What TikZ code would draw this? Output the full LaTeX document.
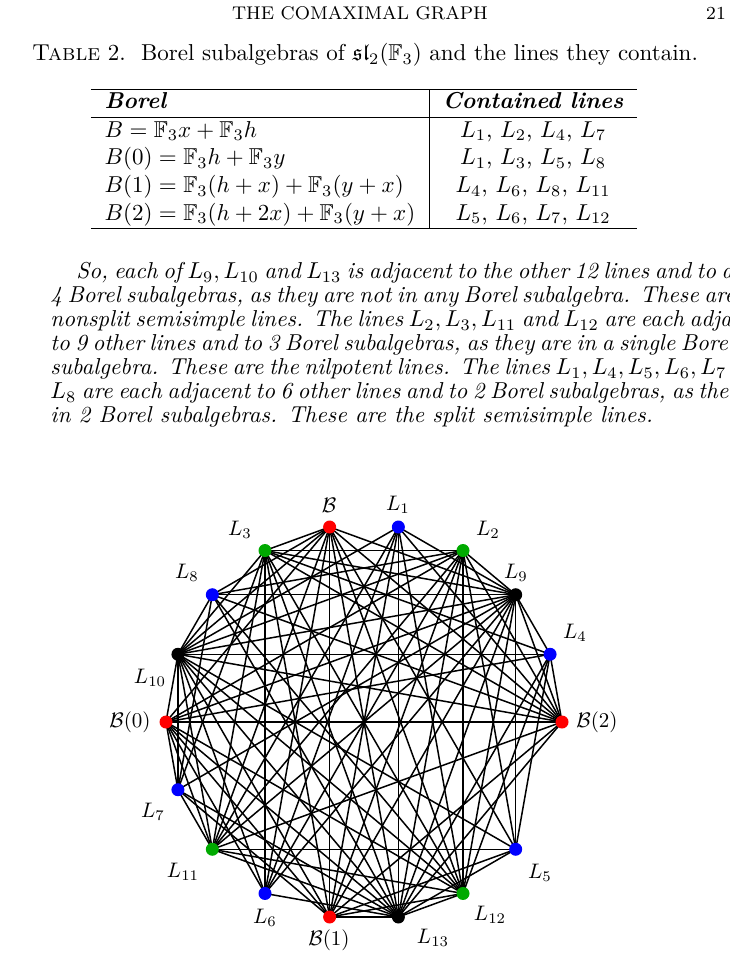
\documentclass[tikz,border=0pt]{standalone}
\usepackage{amssymb}
\definecolor{vgreen}{RGB}{0,170,0}
\begin{document}
\begin{tikzpicture}[x=1pt,y=-1pt,
  dot/.style={circle,fill=#1,inner sep=0pt,minimum size=13pt},
  edge/.style={line width=1.5pt},
  big/.style={scale=2.3,transform shape},
  lab/.style={scale=2.1,transform shape},
  txt/.style={anchor=west,inner sep=0pt,scale=2.3,transform shape,font=\itshape}]
\useasboundingbox (0,0) rectangle (730,968);
\node[big,font=\footnotesize] (hd) at (360,13) {THE COMAXIMAL GRAPH};
\node[big,font=\footnotesize] (pg) at (716,13) {21};
\node[big] (cap) at (365,55) {\textsc{Table} 2.\ \ Borel subalgebras of $\mathfrak{sl}_2(\mathbb{F}_3)$ and the lines they contain.};
\node[big,inner sep=0pt] (tab) at (364,159) {\begin{tabular}{l|c}
\hline
\textbf{\textit{Borel}} & \textbf{\textit{Contained lines}}\\
\hline
$B=\mathbb{F}_3x+\mathbb{F}_3h$ & $L_1$, $L_2$, $L_4$, $L_7$\\
$B(0)=\mathbb{F}_3h+\mathbb{F}_3y$ & $L_1$, $L_3$, $L_5$, $L_8$\\
$B(1)=\mathbb{F}_3(h+x)+\mathbb{F}_3(y+x)$ & $L_4$, $L_6$, $L_8$, $L_{11}$\\
$B(2)=\mathbb{F}_3(h+2x)+\mathbb{F}_3(y+x)$ & $L_5$, $L_6$, $L_7$, $L_{12}$\\
\hline
\end{tabular}};
\node[txt] (p1) at (76,273) {\makebox[283.5pt][s]{So, each of $L_9, L_{10}$ and $L_{13}$ is adjacent to the other 12 lines and to all}};
\node[txt] (p2) at (50,297) {\makebox[294.8pt][s]{4 Borel subalgebras, as they are not in any Borel subalgebra. These are the}};
\node[txt] (p3) at (50,321) {\makebox[294.8pt][s]{nonsplit semisimple lines. The lines $L_2, L_3, L_{11}$ and $L_{12}$ are each adjacent}};
\node[txt] (p4) at (50,345) {\makebox[294.8pt][s]{to 9 other lines and to 3 Borel subalgebras, as they are in a single Borel}};
\node[txt] (p5) at (50,369) {\makebox[294.8pt][s]{subalgebra. These are the nilpotent lines. The lines $L_1, L_4, L_5, L_6, L_7$ and}};
\node[txt] (p6) at (50,393) {\makebox[294.8pt][s]{$L_8$ are each adjacent to 6 other lines and to 2 Borel subalgebras, as they are}};
\node[txt] (p7) at (50,417) {in 2 Borel subalgebras. These are the split semisimple lines.};
% vertices
\foreach \n/\a/\c in {B/100/red,L1/80/blue,L2/60/vgreen,L9/40/black,L4/20/blue,B2/0/red,
  L5/-40/blue,L12/-60/vgreen,L13/-80/black,B1/-100/red,L6/-120/blue,L11/-140/vgreen,
  L7/-160/blue,B0/180/red,L10/160/black,L8/140/blue,L3/120/vgreen}
  \coordinate (\n) at ({364+198*cos(\a)},{722-198*sin(\a)});
\foreach \i/\j in {1/6,1/9,1/10,1/11,1/12,1/13,
 2/3,2/5,2/6,2/8,2/9,2/10,2/11,2/12,2/13,
 3/4,3/6,3/7,3/9,3/10,3/11,3/12,3/13,
 4/5,4/9,4/10,4/12,4/13,
 5/9,5/10,5/11,5/13,
 6/9,6/10,6/13,
 7/8,7/9,7/10,7/11,7/13,
 8/9,8/10,8/12,8/13,
 9/10,9/11,9/12,9/13,10/11,10/12,10/13,11/12,11/13,12/13}
  \draw[edge] (L\i) -- (L\j);
\foreach \b/\l in {B/{3,5,6,8,9,10,11,12,13},B0/{2,4,6,7,9,10,11,12,13},
  B1/{1,2,3,5,7,9,10,12,13},B2/{1,2,3,4,8,9,10,11,13}}
  \foreach \j in \l \draw[edge] (\b) -- (L\j);
\foreach \p/\q in {B/B0,B/B1,B/B2,B0/B1,B0/B2,B1/B2} \draw[edge] (\p) -- (\q);
\foreach \n/\a/\c in {B/100/red,L1/80/blue,L2/60/vgreen,L9/40/black,L4/20/blue,B2/0/red,
  L5/-40/blue,L12/-60/vgreen,L13/-80/black,B1/-100/red,L6/-120/blue,L11/-140/vgreen,
  L7/-160/blue,B0/180/red,L10/160/black,L8/140/blue,L3/120/vgreen}
  \node[dot=\c] (v\n) at (\n) {};
% labels
\node[lab] (tB) at (329,505) {$\mathcal{B}$};
\node[lab] (t1) at (398,505) {$L_1$};
\node[lab] (t2) at (488,530) {$L_2$};
\node[lab] (t9) at (516,573) {$L_9$};
\node[lab] (t4) at (575,633) {$L_4$};
\node[lab] (tB2) at (597,722) {$\mathcal{B}(2)$};
\node[lab] (t5) at (540,873) {$L_5$};
\node[lab] (t12) at (490,915) {$L_{12}$};
\node[lab] (t13) at (433,938) {$L_{13}$};
\node[lab] (tB1) at (329,940) {$\mathcal{B}(1)$};
\node[lab] (t6) at (265,918) {$L_6$};
\node[lab] (t11) at (183,872) {$L_{11}$};
\node[lab] (t7) at (153,812) {$L_7$};
\node[lab] (tB0) at (130,722) {$\mathcal{B}(0)$};
\node[lab] (t10) at (150,678) {$L_{10}$};
\node[lab] (t8) at (187,573) {$L_8$};
\node[lab] (t3) at (240,530) {$L_3$};
\end{tikzpicture}
\end{document}
